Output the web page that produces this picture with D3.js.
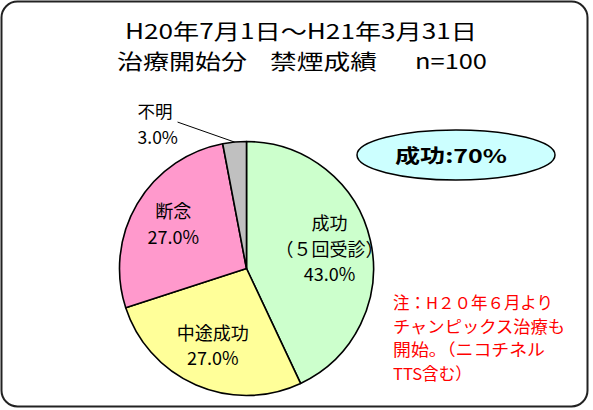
<!DOCTYPE html>
<html><head><meta charset="utf-8">
<script src="https://cdn.jsdelivr.net/npm/d3@7"></script>
<style>html,body{margin:0;padding:0;background:#fff;}svg{display:block;}</style>
</head><body>
<script>
const titleLine1 = "H20年7月1日～H21年3月31日";
const titleLine2Parts = ["治療開始分", "禁煙成績", "n=100"];
const categories = ["成功", "中途成功", "断念", "不明"];
const subLabels = ["（５回受診）", "", "", ""];
const values = [43.0, 27.0, 27.0, 3.0];
const sliceColors = ["#CCFFCC", "#FFFF99", "#FF99CC", "#C0C0C0"];
const badgeText = "成功:70%";
const noteLines = ["注：H２０年６月より", "チャンピックス治療も", "開始。（ニコチネル", "TTS含む）"];

const W = 593, H = 410;
const font = "'Noto Sans CJK JP', 'Noto Sans', sans-serif";
const svg = d3.select("body").append("svg").attr("width", W).attr("height", H);

svg.append("rect").attr("x", 1.5).attr("y", 1.5).attr("width", 586).attr("height", 405)
  .attr("rx", 16).attr("fill", "#fff").attr("stroke", "#222").attr("stroke-width", 2);

// title
svg.append("text").attr("x", 125).attr("y", 39)
  .attr("font-family", font).attr("font-size", 21).attr("fill", "#000")
  .attr("textLength", 352).attr("lengthAdjust", "spacingAndGlyphs")
  .text(titleLine1);
const t2 = svg.append("text").attr("y", 69)
  .attr("font-family", font).attr("font-size", 21).attr("fill", "#000");
const partSpec = [{x0:117, w:130}, {x0:270, w:107}, {x0:415, w:72}];
titleLine2Parts.forEach((p, i) => {
  t2.append("tspan").attr("x", partSpec[i].x0)
    .attr("textLength", partSpec[i].w).attr("lengthAdjust", "spacingAndGlyphs").text(p);
});

// pie
const cx = 246.5, cy = 268.5, R = 127;
const g = svg.append("g").attr("transform", `translate(${cx},${cy})`);
const pie = d3.pie().sort(null).value(d => d)(values);
const arc = d3.arc().innerRadius(0).outerRadius(R);
g.selectAll("path.slice").data(pie).join("path").attr("class", "slice")
  .attr("d", arc).attr("fill", (d, i) => sliceColors[i])
  .attr("stroke", "#000").attr("stroke-width", 1.6).attr("stroke-linejoin", "round");

const labelArc = d3.arc().innerRadius(R * 0.67).outerRadius(R * 0.67);
pie.forEach((d, i) => {
  const lines = [categories[i]];
  if (subLabels[i]) lines.push(subLabels[i]);
  lines.push(d3.format(".1f")(values[i]) + "%");
  if (i === 3) {
    const edge = d3.arc().innerRadius(R).outerRadius(R).centroid(d);
    const ex = edge[0], ey = edge[1];
    const sx = ex - 57, sy = ey - 20;
    g.append("line").attr("x1", sx).attr("y1", sy).attr("x2", ex).attr("y2", ey)
      .attr("stroke", "#000").attr("stroke-width", 1);
    lines.forEach((l, k) => {
      g.append("text").attr("x", sx - 40).attr("y", sy - 4 + k * 26)
        .attr("font-family", font).attr("font-size", 17.5).attr("fill", "#000").text(l);
    });
  } else {
    const c = labelArc.centroid(d);
    const n = lines.length, lh = 25.5;
    lines.forEach((l, k) => {
      g.append("text").attr("x", c[0]).attr("y", c[1] + (k - (n - 1) / 2) * lh + 6)
        .attr("text-anchor", "middle")
        .attr("font-family", font).attr("font-size", 18).attr("fill", "#000").text(l);
    });
  }
});

// badge
svg.append("ellipse").attr("cx", 456).attr("cy", 155).attr("rx", 99).attr("ry", 25)
  .attr("fill", "#CCFFFF").attr("stroke", "#000").attr("stroke-width", 1.5);
svg.append("text").attr("x", 395).attr("y", 163)
  .attr("font-family", font).attr("font-size", 19).attr("font-weight", "bold").attr("fill", "#000")
  .attr("textLength", 112).attr("lengthAdjust", "spacingAndGlyphs").text(badgeText);

// note
const noteW = [160, 172, 152, 79];
noteLines.forEach((t, i) => {
  svg.append("text").attr("x", 393).attr("y", 309 + i * 23.5)
    .attr("font-family", font).attr("font-size", 16.5).attr("fill", "#FF0000")
    .attr("textLength", noteW[i]).attr("lengthAdjust", "spacingAndGlyphs").text(t);
});
</script>
</body></html>
